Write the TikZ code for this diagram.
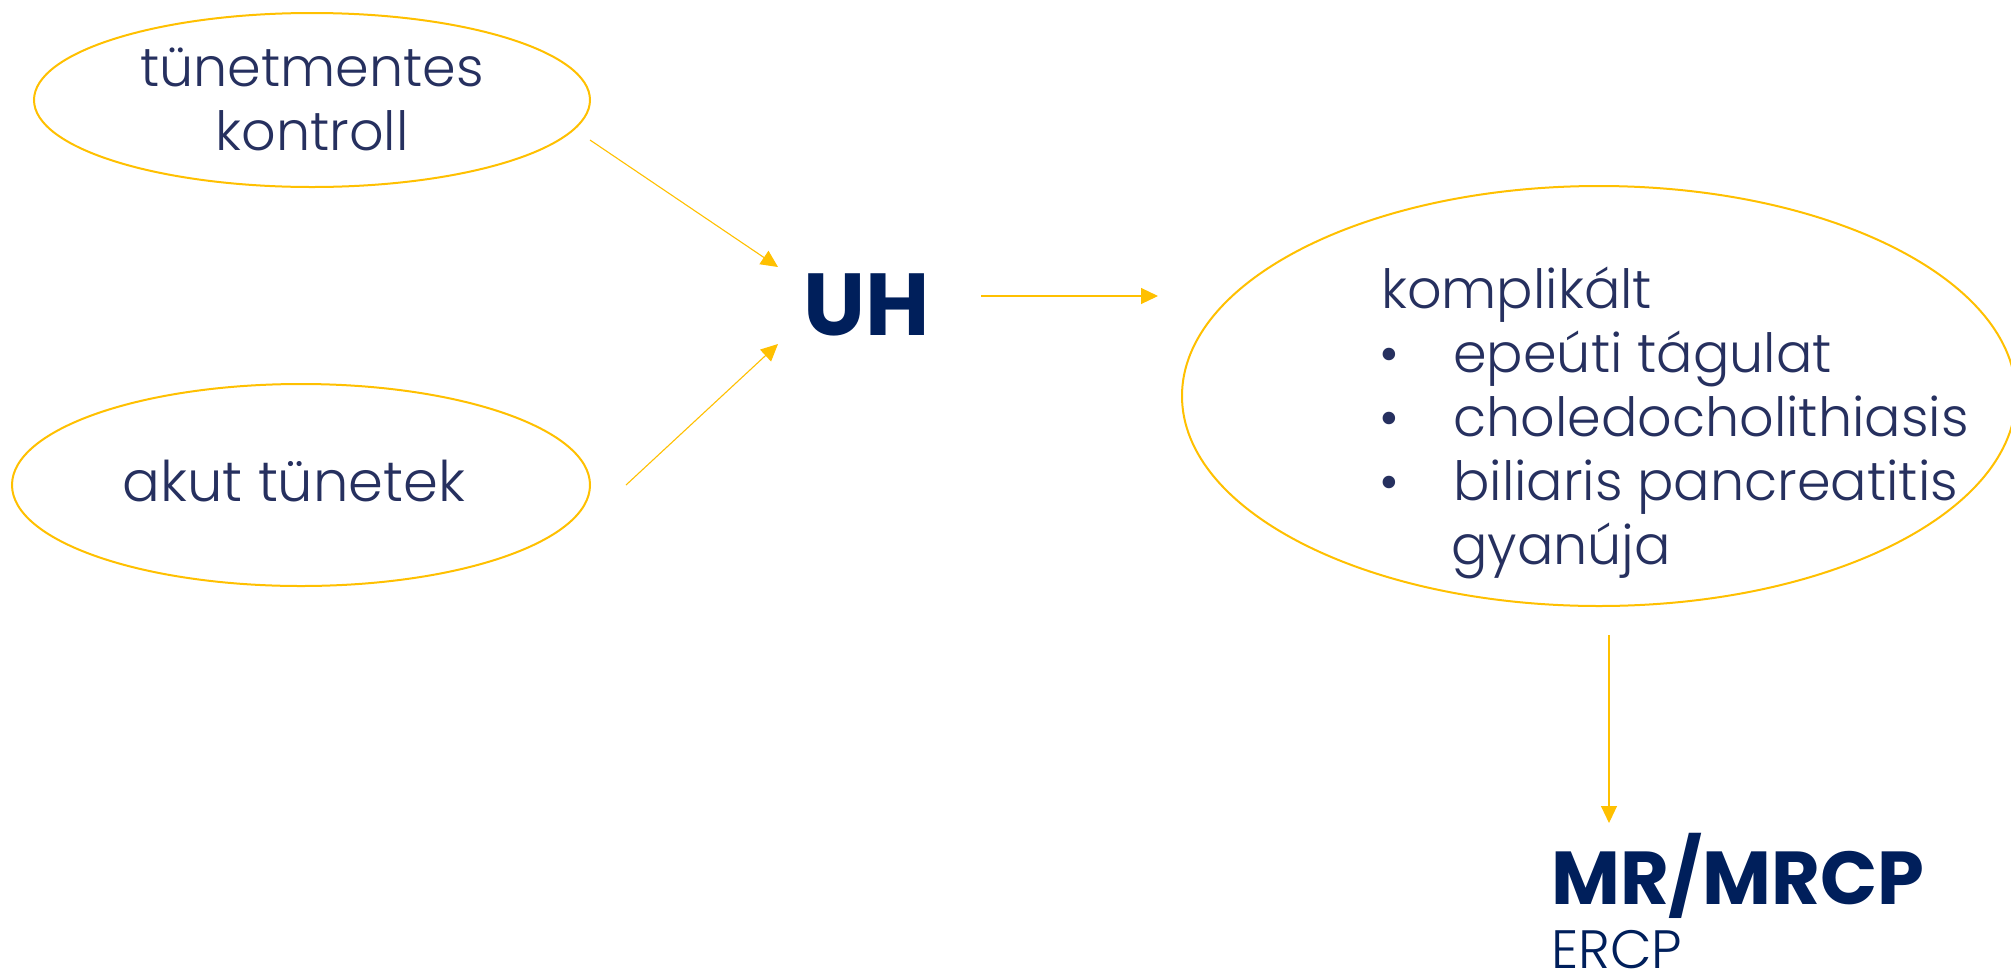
\documentclass[tikz,border=0pt]{standalone}
\usepackage{fontspec}
\setmainfont{Poppins}[UprightFont=* Light, BoldFont=* Bold]
\usetikzlibrary{arrows.meta,shapes.geometric}
\definecolor{gold}{HTML}{FFC000}
\definecolor{navy}{HTML}{26305F}
\definecolor{deepnavy}{HTML}{001F5B}
\tikzset{
  oval/.style={ellipse, draw=gold, line width=2pt, inner sep=0pt},
  arr/.style={draw=gold, line width=1.1pt, -{Triangle[length=17pt,width=16pt]}},
  txt/.style={text=navy, font=\fontsize{54}{64}\selectfont, inner sep=0pt},
  bigtxt/.style={text=deepnavy, font=\fontsize{88}{100}\selectfont\bfseries, inner sep=0pt},
}
\begin{document}
\begin{tikzpicture}[x=1pt,y=-1pt]
\useasboundingbox[fill=white] (0,0) rectangle (2011,978);
% ellipses
\node[oval, minimum width=556pt, minimum height=174pt] (e1) at (312,100) {};
\node[oval, minimum width=578pt, minimum height=202pt] (e2) at (301,485) {};
\node[oval, minimum width=834pt, minimum height=420pt] (e3) at (1599,396) {};
% texts in ellipses
\node[txt, anchor=base] (t1) at (312,86) {tünetmentes};
\node[txt, anchor=base] (t1b) at (312,150) {kontroll};
\node[txt, anchor=base, font=\fontsize{56}{64}\selectfont] (t2) at (294,501) {akut tünetek};
\node[txt, anchor=base west] (k0) at (1381,308) {komplikált};
\node[txt, anchor=base] (b1) at (1389,372) {•};
\node[txt, anchor=base] (b2) at (1389,436) {•};
\node[txt, anchor=base] (b3) at (1389,500) {•};
\node[txt, anchor=base west] (k1) at (1453,372) {epeúti tágulat};
\node[txt, anchor=base west] (k2) at (1453,436) {choledocholithiasis};
\node[txt, anchor=base west] (k3) at (1453,500) {biliaris pancreatitis};
\node[txt, anchor=base west] (k4) at (1451,564) {gyanúja};
% UH
\node[bigtxt, anchor=base] (uh) at (867,335) {UH};
% MR/MRCP
\node[bigtxt, font=\fontsize{75}{80}\selectfont\bfseries, anchor=base west] (mr) at (1551,904) {MR/MRCP};
\node[text=deepnavy, font=\fontsize{54}{64}\selectfont, inner sep=0pt, anchor=base west] (ercp) at (1551,968) {ERCP};
% connector ends
\coordinate (a1s) at (590,140);
\coordinate (a1e) at (778,267);
\coordinate (a2s) at (626,485);
\coordinate (a2e) at (778,344);
\coordinate (a3s) at (981,296);
\coordinate (a3e) at (1158,296);
\coordinate (a4s) at (1609,635);
\coordinate (a4e) at (1609,823);
\draw[arr] (a1s) -- (a1e);
\draw[arr] (a2s) -- (a2e);
\draw[arr] (a3s) -- (a3e);
\draw[arr] (a4s) -- (a4e);
\end{tikzpicture}
\end{document}
